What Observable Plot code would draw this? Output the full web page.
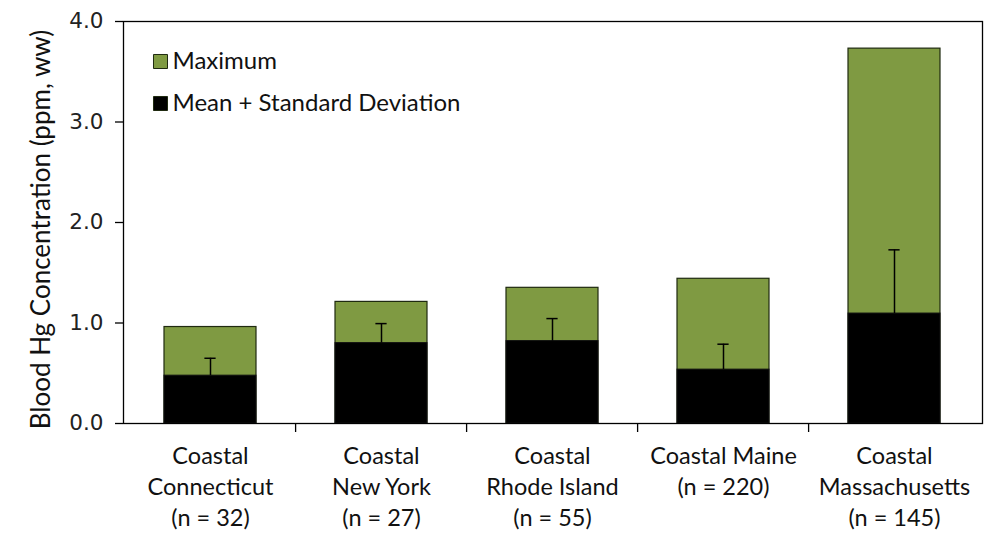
<!DOCTYPE html>
<html>
<head>
<meta charset="utf-8">
<script src="https://cdn.jsdelivr.net/npm/d3@7"></script>
<script src="https://cdn.jsdelivr.net/npm/@observablehq/plot@0.6"></script>
<style>
  html, body { margin: 0; padding: 0; background: #fff; }
  #chart { width: 996px; height: 533px; }
</style>
</head>
<body>
<div id="chart"></div>
<script>
const categories = ["Connecticut", "New York", "Rhode Island", "Maine", "Massachusetts"];
const tickLabels = [
  "Coastal\nConnecticut\n(n = 32)",
  "Coastal\nNew York\n(n = 27)",
  "Coastal\nRhode Island\n(n = 55)",
  "Coastal Maine\n(n = 220)",
  "Coastal\nMassachusetts\n(n = 145)"
];
const maximum = [0.96, 1.21, 1.35, 1.44, 3.73];
const mean = [0.476, 0.80, 0.82, 0.536, 1.094];
const meanPlusSD = [0.649, 0.994, 1.044, 0.789, 1.728];
const yTicks = [0, 1, 2, 3, 4];
const legendItems = ["Maximum", "Mean + Standard Deviation"];
const legendColors = ["#7f9a42", "#000000"];

const data = categories.map((c, i) => ({
  cat: c, max: maximum[i], mean: mean[i], sd: meanPlusSD[i], label: tickLabels[i]
}));
const labelOf = Object.fromEntries(data.map(d => [d.cat, d.label]));

const W = 996, H = 533;
const mL = 123, mR = 14, mT = 21, mB = 110;
const step = (W - mL - mR) / categories.length;
const bw = step * (1 - 0.46);
const capInset = (bw - 12) / 2;

const legendMarks = legendItems.flatMap((t, i) => [
  Plot.dot([t], {frameAnchor: "top-left", dx: 37, dy: 40 + 42 * i, symbol: "square",
    r: 7.9, fill: legendColors[i], stroke: "#1f2a10", strokeWidth: 1}),
  Plot.text([t], {frameAnchor: "top-left", dx: 49, dy: 40 + 42 * i, lineAnchor: "middle",
    textAnchor: "start", fontSize: 24, fontFamily: "Lato", fill: "#111"})
]);

const chart = Plot.plot({
  width: W, height: H,
  marginLeft: mL, marginRight: mR, marginTop: mT, marginBottom: mB,
  style: {fontFamily: "Lato", background: "#fff", overflow: "visible"},
  x: {domain: categories, paddingInner: 0.46, paddingOuter: 0.23, axis: null},
  y: {domain: [0, 4], axis: null},
  marks: [
    Plot.barY(data, {x: "cat", y: "max", fill: "#7f9a42", stroke: "#1f2a10", strokeWidth: 1.2}),
    Plot.barY(data, {x: "cat", y: "mean", fill: "#000", stroke: "#111", strokeWidth: 1}),
    Plot.ruleX(data, {x: "cat", y1: "mean", y2: "sd", stroke: "#000", strokeWidth: 1.5}),
    Plot.tickY(data, {x: "cat", y: "sd", stroke: "#000", strokeWidth: 1.5, insetLeft: capInset, insetRight: capInset}),
    Plot.frame({stroke: "#000", strokeWidth: 1.3}),
    Plot.axisY({ticks: yTicks, tickFormat: d3.format(".1f"), tickSize: 8, tickPadding: 12,
      fontSize: 21.5, fontFamily: "DejaVu Sans", label: null, stroke: "#000", strokeWidth: 1.3, color: "#222"}),
    Plot.text(["Blood Hg Concentration (ppm, ww)"], {frameAnchor: "left", rotate: -90, dx: -82, dy: 7,
      textAnchor: "middle", fontSize: 26, fontFamily: "Lato", fill: "#111"}),
    Plot.axisX({tickSize: 0, tickPadding: 18, tickFormat: d => labelOf[d], fontSize: 23.5,
      fontFamily: "Lato", lineHeight: 1.32, label: null, color: "#111"}),
    Plot.ruleX(categories.slice(1), {x: d => d, y1: 0, y2: 0, dx: -step / 2, insetBottom: -9,
      stroke: "#000", strokeWidth: 1.3}),
    ...legendMarks
  ]
});
document.getElementById("chart").appendChild(chart);
</script>
</body>
</html>
